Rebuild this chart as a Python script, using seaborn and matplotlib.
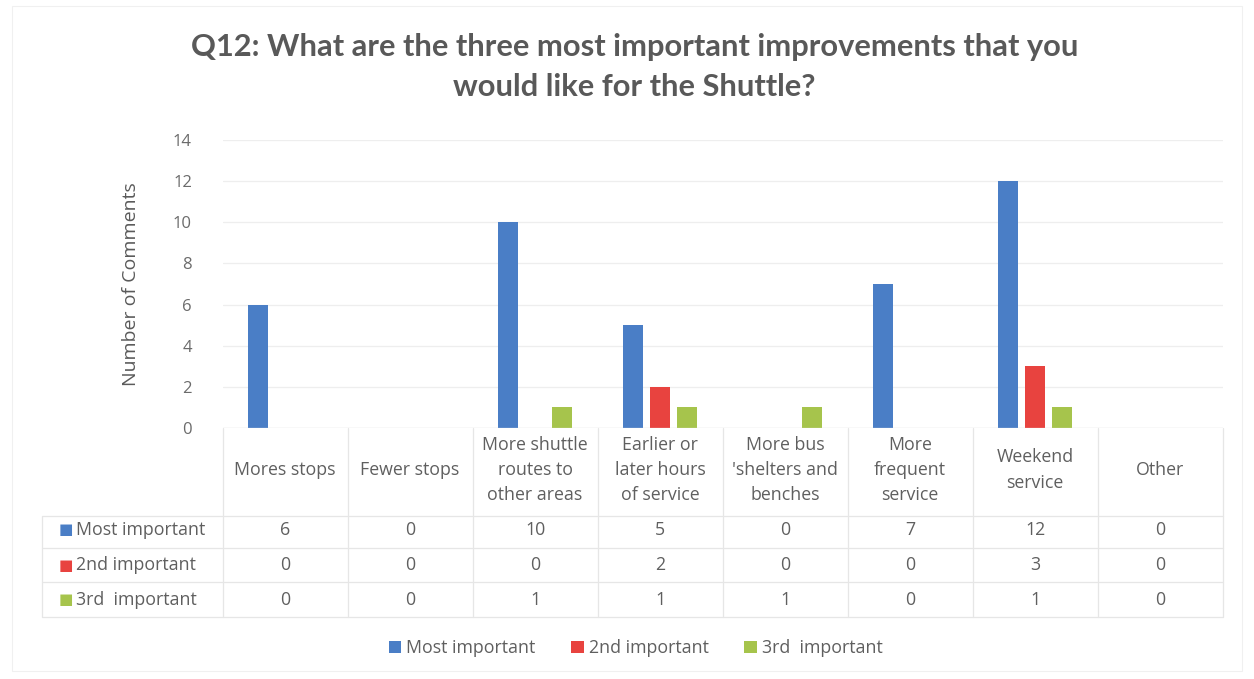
import matplotlib
matplotlib.use("Agg")
import matplotlib.pyplot as plt
import matplotlib.transforms as mtransforms
import seaborn as sns
import pandas as pd

categories = ["Mores stops", "Fewer stops", "More shuttle\nroutes to\nother areas",
              "Earlier or\nlater hours\nof service", "More bus\n'shelters and\nbenches",
              "More\nfrequent\nservice", "Weekend\nservice", "Other"]
series = ["Most important", "2nd important", "3rd  important"]
most_important = [6, 0, 10, 5, 0, 7, 12, 0]
second_important = [0, 0, 0, 2, 0, 0, 3, 0]
third_important = [0, 0, 1, 1, 1, 0, 1, 0]
colors = ["#4A7EC6", "#E8433F", "#A6C44C"]
yticks = [0, 2, 4, 6, 8, 10, 12, 14]

values = [most_important, second_important, third_important]
rows = []
for s, vals in zip(series, values):
    for c, v in zip(categories, vals):
        rows.append({"category": c, "series": s, "value": v})
df = pd.DataFrame(rows)

sns.set_theme(style="white")
plt.rcParams["font.family"] = ["Open Sans", "DejaVu Sans"]

TXT = "#5f5f5f"
FS = 12.8

fig = plt.figure(figsize=(12.54, 6.79), dpi=100)
ax = fig.add_axes([222.5 / 1254, 1 - 428 / 679, 1000 / 1254, 288 / 679])

sns.barplot(data=df, x="category", y="value", hue="series", palette=colors,
            order=categories, hue_order=series, width=0.65, gap=0.26,
            saturation=1, ax=ax, edgecolor="none")

ax.set_ylim(0, 14)
ax.set_xlim(-0.5, len(categories) - 0.5)
ax.set_yticks(yticks)
ax.set_yticklabels([str(t) for t in yticks], color="#6b6b6b", fontsize=12)
ax.tick_params(axis="y", length=0, pad=22)
ax.set_xticks([])
ax.set_xlabel("")
ax.set_ylabel("Number of Comments", color="#5a5a5a", fontsize=14, labelpad=24)
for sp in ax.spines.values():
    sp.set_visible(False)
ax.yaxis.grid(True, color="#eeeeee", linewidth=0.9)
ax.set_axisbelow(True)
ax.axhline(0, color="#e2e2e2", linewidth=0.9)

# Title
for yy, line in [(47, "Q12: What are the three most important improvements that you"),
                 (87, "would like for the Shuttle?")]:
    fig.text(0.506, 1 - yy / 679, line, ha="center", va="center", fontsize=22.2,
             fontweight="bold", color="#595959", family=["Lato", "DejaVu Sans"])

# Data table
tr = mtransforms.blended_transform_factory(ax.transData, fig.transFigure)
line_c = "#e6e6e6"
header_y = 1 - 470 / 679
row_ys = [1 - 530 / 679, 1 - 565 / 679, 1 - 600 / 679]
y_top = 1 - 428 / 679
y_vals_top = 1 - 516 / 679
row_bounds = [1 - 548 / 679, 1 - 582 / 679, 1 - 617 / 679]

for i, c in enumerate(categories):
    ax.text(i, header_y, c, transform=tr, ha="center", va="center",
            fontsize=FS, color=TXT, linespacing=1.5, clip_on=False)
    for ry, vals in zip(row_ys, values):
        ax.text(i, ry, str(vals[i]), transform=tr, ha="center", va="center",
                fontsize=FS, color=TXT, clip_on=False)

for k in range(len(categories) + 1):
    ax.plot([k - 0.5, k - 0.5], [y_top, row_bounds[-1]], transform=tr,
            color=line_c, linewidth=0.9, clip_on=False)

x_left_fig = 42 / 1254
x_right_ax = len(categories) - 0.5
for yb in [y_vals_top] + row_bounds:
    fig.add_artist(plt.Line2D([x_left_fig, 222.5 / 1254], [yb, yb], color=line_c,
                              linewidth=0.9, transform=fig.transFigure))
    ax.plot([-0.5, x_right_ax], [yb, yb], transform=tr, color=line_c,
            linewidth=0.9, clip_on=False)
fig.add_artist(plt.Line2D([x_left_fig, x_left_fig], [y_vals_top, row_bounds[-1]],
                          color=line_c, linewidth=0.9, transform=fig.transFigure))

for ry, s, col in zip(row_ys, series, colors):
    fig.text(59 / 1254, ry, "\u25A0", color=col, fontsize=11, ha="left", va="center",
             family=["DejaVu Sans"])
    fig.text(76 / 1254, ry, s, color=TXT, fontsize=FS, ha="left", va="center")

# Legend
sns.move_legend(ax, "center", bbox_to_anchor=(0.507, 1 - 648 / 679),
                bbox_transform=fig.transFigure, ncol=3, frameon=False, title=None,
                fontsize=FS, handlelength=0.7, handleheight=0.7, handletextpad=0.3,
                columnspacing=2.0)
for t in ax.get_legend().get_texts():
    t.set_color(TXT)

# faint outer border
fig.add_artist(plt.Rectangle((12 / 1254, 8 / 679), 1230 / 1254, 665 / 679,
                             fill=False, edgecolor="#f0f0f0", linewidth=0.8,
                             transform=fig.transFigure))

fig.savefig("out.png", dpi=100)
